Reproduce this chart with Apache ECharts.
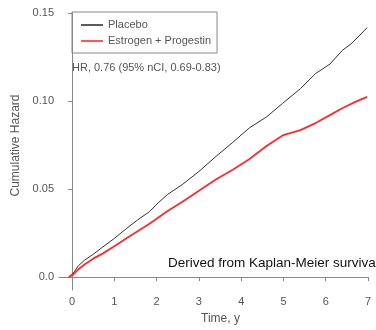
<!DOCTYPE html>
<html>
<head>
<meta charset="utf-8">
<script src="https://cdn.jsdelivr.net/npm/echarts@6/dist/echarts.min.js"></script>
<style>
  html, body { margin: 0; padding: 0; background: #fff; }
  #chart { width: 376px; height: 330px; }
</style>
</head>
<body>
<div id="chart"></div>
<script>
// values
const placeboTime = [-0.08, 0.05, 0.15, 0.3, 0.5, 0.73, 1.0, 1.28, 1.55, 1.83, 2.05, 2.26, 2.62, 3.0, 3.41, 3.8, 4.19, 4.6, 4.98, 5.4, 5.76, 6.1, 6.39, 6.6, 6.79, 6.98];
const placeboHazard = [0, 0.003, 0.0065, 0.0097, 0.013, 0.0172, 0.022, 0.0275, 0.0325, 0.0372, 0.0425, 0.047, 0.0528, 0.060, 0.0687, 0.0765, 0.0847, 0.091, 0.0987, 0.107, 0.1156, 0.121, 0.1287, 0.1325, 0.137, 0.1417];
const epTime = [-0.08, 0.05, 0.15, 0.3, 0.5, 0.73, 1.0, 1.28, 1.55, 1.83, 2.05, 2.26, 2.62, 3.0, 3.41, 3.8, 4.19, 4.6, 4.98, 5.4, 5.76, 6.1, 6.39, 6.7, 6.98];
const epHazard = [0, 0.002, 0.0045, 0.0073, 0.0105, 0.0135, 0.0175, 0.0219, 0.026, 0.0303, 0.034, 0.0375, 0.043, 0.049, 0.0556, 0.061, 0.067, 0.0745, 0.0805, 0.0835, 0.0875, 0.092, 0.0959, 0.0995, 0.1024];

const xTickValues = [0, 1, 2, 3, 4, 5, 6, 7];
const yTickValues = [0, 0.05, 0.1, 0.15];
const yTickLabels = ['0.0', '0.05', '0.10', '0.15'];

const zip = (xs, ys) => xs.map((x, i) => [x, ys[i]]);

const textColor = '#555';
const axisColor = '#888';
const font = 'Liberation Sans, Arial, sans-serif';

const chart = echarts.init(document.getElementById('chart'));
chart.setOption({
  animation: false,
  textStyle: { fontFamily: font },
  grid: { left: 59, right: 8, top: 13, bottom: 38 },
  legend: {
    left: 72,
    top: 12,
    orient: 'vertical',
    borderColor: axisColor,
    borderWidth: 1,
    padding: [6, 6, 5, 9],
    itemGap: 2,
    itemWidth: 22,
    itemHeight: 1.6,
    icon: 'rect',
    textStyle: { color: textColor, fontSize: 11, fontFamily: font, lineHeight: 14 },
    data: [
      { name: 'Placebo', itemStyle: { color: '#333' } },
      { name: 'Estrogen + Progestin', itemStyle: { color: '#ff2a2a' } }
    ]
  },
  xAxis: {
    type: 'value',
    min: -0.31,
    max: 7,
    name: 'Time, y',
    nameLocation: 'middle',
    nameGap: 23,
    nameTextStyle: { color: textColor, fontSize: 12, padding: [0, 0, 0, 14] },
    axisLine: { lineStyle: { color: axisColor } },
    axisTick: { customValues: xTickValues, length: 4, lineStyle: { color: axisColor } },
    axisLabel: { customValues: xTickValues, color: textColor, fontSize: 11, margin: 6 },
    splitLine: { show: false }
  },
  yAxis: {
    type: 'value',
    min: -0.0073,
    max: 0.15,
    name: 'Cumulative Hazard',
    nameLocation: 'middle',
    nameGap: 33,
    nameTextStyle: { color: textColor, fontSize: 12, padding: [0, 0, 0, 12] },
    axisLine: { show: true, lineStyle: { color: axisColor } },
    axisTick: { show: true, customValues: yTickValues, length: 4, lineStyle: { color: axisColor } },
    axisLabel: {
      customValues: yTickValues,
      color: textColor,
      fontSize: 11,
      margin: 5,
      formatter: (v) => yTickLabels[yTickValues.findIndex((t) => Math.abs(t - v) < 1e-9)]
    },
    splitLine: { show: false }
  },
  graphic: [
    {
      type: 'text',
      left: 72,
      top: 62,
      style: { text: 'HR, 0.76 (95% nCI, 0.69-0.83)', fill: textColor, font: '11px ' + font }
    },
    {
      type: 'text',
      left: 168,
      top: 256,
      style: { text: 'Derived from Kaplan-Meier survival', fill: '#111', font: '13.5px ' + font }
    }
  ],
  series: [
    {
      name: 'Placebo',
      type: 'line',
      symbol: 'none',
      lineStyle: { color: '#333', width: 1 },
      itemStyle: { color: '#333' },
      data: zip(placeboTime, placeboHazard)
    },
    {
      name: 'Estrogen + Progestin',
      type: 'line',
      symbol: 'none',
      lineStyle: { color: '#ff2a2a', width: 1.8 },
      itemStyle: { color: '#ff2a2a' },
      data: zip(epTime, epHazard)
    }
  ]
});
</script>
</body>
</html>
